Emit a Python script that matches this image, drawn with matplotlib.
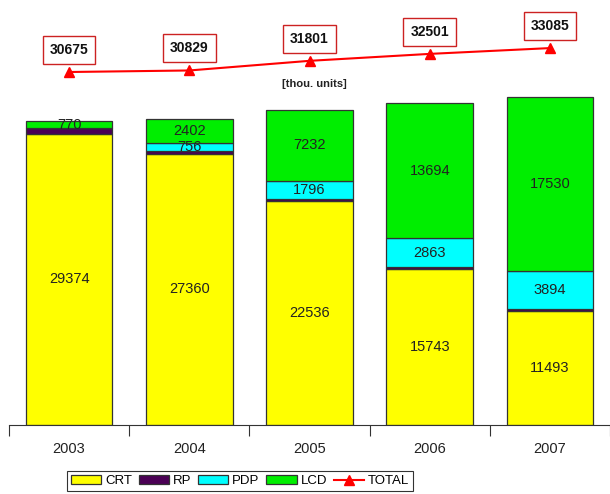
import numpy as np
import matplotlib
matplotlib.use('Agg')
import matplotlib.pyplot as plt

plt.rcParams['font.family'] = ['Liberation Sans', 'DejaVu Sans']

# data
years = ['2003', '2004', '2005', '2006', '2007']
crt = [29374, 27360, 22536, 15743, 11493]
rp = [531, 311, 237, 201, 168]
pdp = [0, 756, 1796, 2863, 3894]
lcd = [770, 2402, 7232, 13694, 17530]
total = [30675, 30829, 31801, 32501, 33085]

colors = {'CRT': '#ffff00', 'RP': '#4b0055', 'PDP': '#00ffff', 'LCD': '#00ee00'}

fig = plt.figure(figsize=(6.10, 4.94), dpi=100)
W, H = 610, 494
# main axes: from y=20 to y=425 pixels
ax = fig.add_axes([9 / W, (H - 425) / H, (W - 9) / W, 405 / H])
x = np.arange(len(years))
scale = 0.00992  # px per unit
ax.set_ylim(0, 405 / scale)
ax.set_xlim(-0.5, 4.42)

bottom = np.zeros(len(years))
for name, vals in [('CRT', crt), ('RP', rp), ('PDP', pdp), ('LCD', lcd)]:
    ax.bar(x, vals, 0.72, bottom=bottom, color=colors[name], edgecolor='#333333',
           linewidth=0.9, label=name)
    if name != 'RP':
        for i, v in enumerate(vals):
            if v > 0:
                ax.text(x[i], bottom[i] + v / 2, str(v), ha='center', va='center',
                        fontsize=10.5, color='#222222')
    bottom += np.array(vals)

# axis styling
for s in ['left', 'right', 'top']:
    ax.spines[s].set_visible(False)
ax.spines['bottom'].set_color('#333333')
ax.set_yticks([])
ax.set_xticks(np.arange(-0.5, 5, 1))
ax.set_xticklabels([])
ax.tick_params(axis='x', which='major', length=8, color='#333333')
ax.set_xticks(x, minor=True)
ax.set_xticklabels(years, minor=True, fontsize=10.5, color='#222222')
ax.tick_params(axis='x', which='minor', length=0, pad=12)

# total line on twin axes with offset scale
ax2 = ax.twinx()
off = 30675 - (425 - 72) / scale
ax2.set_ylim(off, off + 405 / scale)
ax2.axis('off')
line, = ax2.plot(x, total, color='#ff0000', lw=1.5, marker='^', ms=7,
                 label='TOTAL')
for i, v in enumerate(total):
    ax2.annotate(str(v), (x[i], v), xytext=(0, 16), textcoords='offset points',
                 ha='center', va='center', fontsize=10, fontweight='bold',
                 color='#111111',
                 bbox=dict(boxstyle='square,pad=0.5', fc='white', ec='#cc2222', lw=1))

fig.text(314 / W, 1 - 84 / H, '[thou. units]', ha='center', va='center',
         fontsize=8, fontweight='bold', color='#222222')

handles, labels = ax.get_legend_handles_labels()
leg = fig.legend(handles + [line], labels + ['TOTAL'], loc='center',
                 bbox_to_anchor=(240 / W, 1 - 481 / H), ncol=5, fontsize=9.5,
                 frameon=True, fancybox=False, edgecolor='black',
                 handlelength=2.3, handletextpad=0.3, columnspacing=0.5,
                 borderpad=0.3)
leg.get_frame().set_linewidth(0.8)

fig.savefig('out.png', dpi=100)
